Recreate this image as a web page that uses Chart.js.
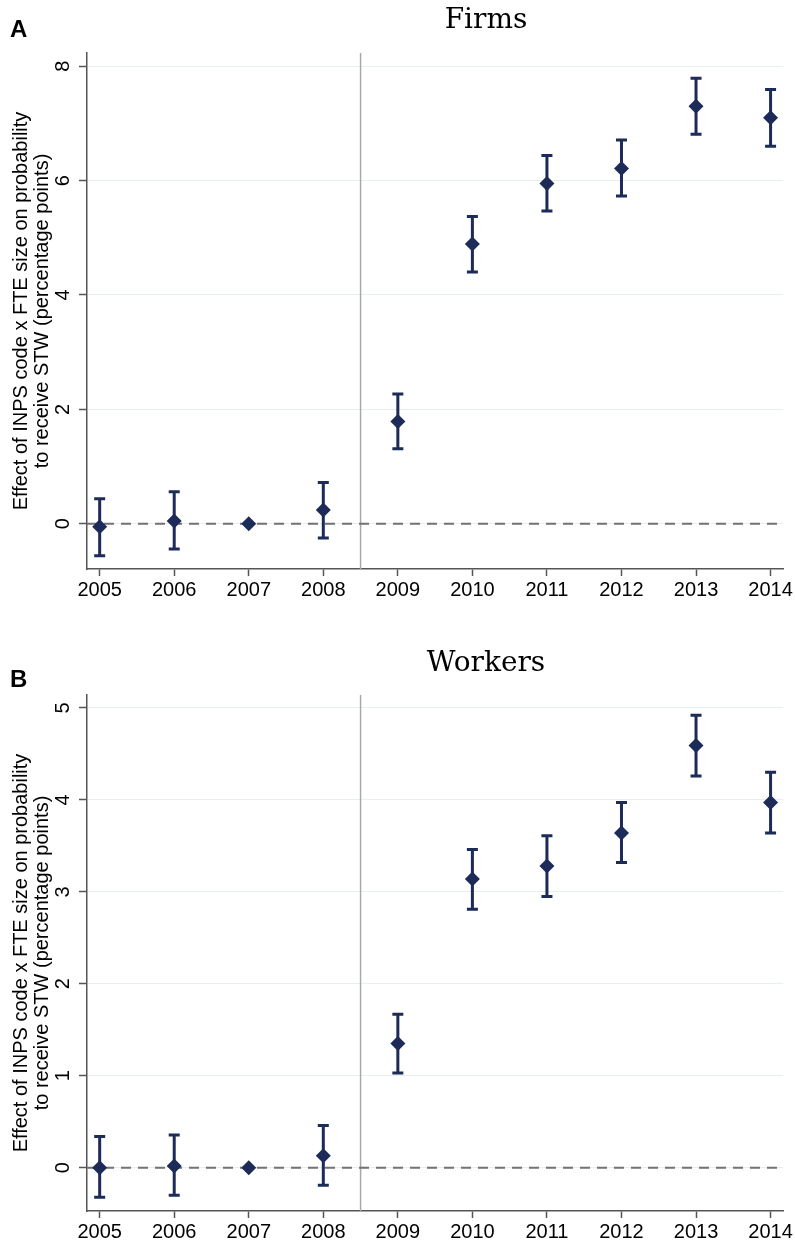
<!DOCTYPE html>
<html>
<head>
<meta charset="utf-8">
<script src="https://cdn.jsdelivr.net/npm/chart.js@4.4.0/dist/chart.umd.min.js"></script>
<style>
  body { margin: 0; background: #fff; width: 795px; height: 1244px; position: relative; overflow: hidden; }
  .panel { position: absolute; left: 0; width: 795px; }
</style>
</head>
<body>
<div class="panel" style="top:0;height:620px"><canvas id="chartA"></canvas></div>
<div class="panel" style="top:640px;height:604px"><canvas id="chartB"></canvas></div>
<script>
// Years (event time), 2007 is the reference year
const years = [2005, 2006, 2007, 2008, 2009, 2010, 2011, 2012, 2013, 2014];

// Panel A: firms
const firmsCoef = [-0.05, 0.05, 0, 0.24, 1.79, 4.89, 5.95, 6.21, 7.30, 7.10];
const firmsLo   = [-0.56, -0.44, null, -0.25, 1.31, 4.40, 5.47, 5.73, 6.81, 6.60];
const firmsHi   = [0.44, 0.56, null, 0.72, 2.27, 5.37, 6.44, 6.71, 7.79, 7.59];
const firmsTicks = [0, 2, 4, 6, 8];

// Panel B: workers
const workersCoef = [0.00, 0.02, 0, 0.13, 1.35, 3.14, 3.28, 3.64, 4.59, 3.97];
const workersLo   = [-0.32, -0.30, null, -0.19, 1.03, 2.81, 2.95, 3.32, 4.26, 3.64];
const workersHi   = [0.34, 0.355, null, 0.46, 1.67, 3.46, 3.61, 3.97, 4.92, 4.30];
const workersTicks = [0, 1, 2, 3, 4, 5];

const breakYear = 2008.5;
const yTitle = ['Effect of INPS code x FTE size on probability', 'to receive STW (percentage points)'];

const navy = '#1c2b57';
const axisCol = '#555555';
Chart.defaults.font.family = "'Liberation Sans', Arial, sans-serif";
Chart.defaults.color = '#000';

const xMin = 2004.83, xMax = 2014.17;

// error bars, drawn under the markers
const errorBars = {
  id: 'errorBars',
  beforeDatasetsDraw(chart) {
    const o = chart.options.plugins.errorBars;
    const ctx = chart.ctx, xs = chart.scales.x, ys = chart.scales.y;
    ctx.save();
    ctx.strokeStyle = navy;
    ctx.lineWidth = 3;
    years.forEach((yr, i) => {
      if (o.lo[i] == null) return;
      const px = xs.getPixelForValue(yr);
      const y1 = ys.getPixelForValue(o.lo[i]);
      const y2 = ys.getPixelForValue(o.hi[i]);
      ctx.beginPath();
      ctx.moveTo(px, y1); ctx.lineTo(px, y2);
      ctx.moveTo(px - 5.5, y1); ctx.lineTo(px + 5.5, y1);
      ctx.moveTo(px - 5.5, y2); ctx.lineTo(px + 5.5, y2);
      ctx.stroke();
    });
    ctx.restore();
  }
};

// titles, panel letter, rotated y labels
const panelText = {
  id: 'panelText',
  afterDraw(chart) {
    const o = chart.options.plugins.panelText;
    const ctx = chart.ctx, ys = chart.scales.y, area = chart.chartArea;
    ctx.save();
    ctx.fillStyle = '#000';
    ctx.font = "bold 24px 'Liberation Sans', Arial, sans-serif";
    ctx.textAlign = 'left';
    ctx.textBaseline = 'alphabetic';
    ctx.fillText(o.letter, 10, o.letterY);

    ctx.font = "28px 'DejaVu Serif', serif";
    ctx.textAlign = 'center';
    ctx.fillText(o.title, 486, o.titleY);

    ctx.font = "20px 'Liberation Sans', Arial, sans-serif";
    o.ticks.forEach(v => {
      ctx.save();
      ctx.translate(69, ys.getPixelForValue(v));
      ctx.rotate(-Math.PI / 2);
      ctx.fillText(String(v), 0, 0);
      ctx.restore();
    });

    const cy = (area.top + area.bottom) / 2;
    [[yTitle[0], 27], [yTitle[1], 48]].forEach(([t, bx]) => {
      ctx.save();
      ctx.translate(bx, cy);
      ctx.rotate(-Math.PI / 2);
      ctx.fillText(t, 0, 0);
      ctx.restore();
    });
    ctx.restore();
  }
};

function makePanel(id, p) {
  const ctx = document.getElementById(id).getContext('2d');
  return new Chart(ctx, {
    type: 'scatter',
    data: {
      datasets: [
        {
          data: years.map((x, i) => ({ x: x, y: p.coef[i] })),
          pointStyle: 'rectRot',
          pointRadius: 7.5,
          backgroundColor: navy,
          borderWidth: 0
        },
        {
          type: 'line',
          showLine: true,
          data: [{ x: xMin, y: 0 }, { x: xMax, y: 0 }],
          borderColor: '#727272',
          borderWidth: 2,
          borderDash: [10, 7],
          pointRadius: 0
        },
        {
          type: 'line',
          showLine: true,
          data: [{ x: breakYear, y: p.yMin }, { x: breakYear, y: p.yMax }],
          borderColor: '#a8a8a8',
          borderWidth: 1.5,
          pointRadius: 0
        }
      ]
    },
    options: {
      responsive: true,
      maintainAspectRatio: false,
      animation: false,
      layout: { padding: { top: p.top, right: 10, left: 0, bottom: 0 } },
      plugins: {
        legend: { display: false },
        tooltip: { enabled: false },
        errorBars: { lo: p.lo, hi: p.hi },
        panelText: { letter: p.letter, letterY: p.letterY, title: p.title, titleY: p.titleY, ticks: p.ticks }
      },
      scales: {
        x: {
          type: 'linear',
          min: xMin,
          max: xMax,
          afterBuildTicks: s => { s.ticks = years.map(v => ({ value: v })); },
          afterFit: s => { s.height = p.xHeight; },
          ticks: { font: { size: 20 }, color: '#000', padding: 2, maxRotation: 0, autoSkip: false, callback: v => String(v) },
          grid: { drawOnChartArea: false, drawTicks: true, tickLength: 7, tickColor: axisCol, tickWidth: 1.5 },
          border: { color: axisCol, width: 1.5 }
        },
        y: {
          min: p.yMin,
          max: p.yMax,
          afterBuildTicks: s => { s.ticks = p.ticks.map(v => ({ value: v })); },
          afterFit: s => { s.width = 87; },
          ticks: { display: false },
          grid: { color: '#e6eef1', lineWidth: 1, tickLength: 8, tickColor: axisCol, tickWidth: 1.5 },
          border: { color: axisCol, width: 1.5 }
        }
      }
    },
    plugins: [errorBars, panelText]
  });
}

makePanel('chartA', {
  coef: firmsCoef, lo: firmsLo, hi: firmsHi, ticks: firmsTicks,
  yMin: -0.79, yMax: 8.23, top: 53, xHeight: 51,
  letter: 'A', letterY: 37, title: 'Firms', titleY: 28
});

makePanel('chartB', {
  coef: workersCoef, lo: workersLo, hi: workersHi, ticks: workersTicks,
  yMin: -0.47, yMax: 5.14, top: 55, xHeight: 33,
  letter: 'B', letterY: 47, title: 'Workers', titleY: 31
});
</script>
</body>
</html>
